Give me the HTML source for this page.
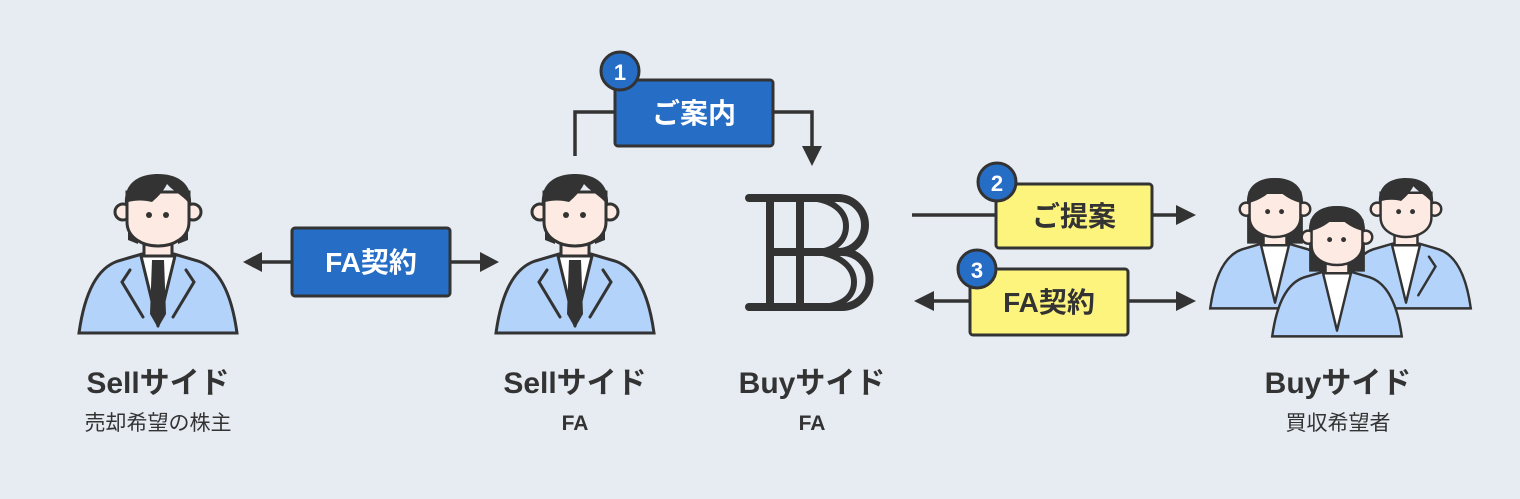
<!DOCTYPE html>
<html><head><meta charset="utf-8"><style>
html,body{margin:0;padding:0;background:#e7ecf3;}
svg{display:block}
text{font-family:"Liberation Sans","Noto Sans CJK JP",sans-serif;}
</style></head><body>
<svg width="1520" height="499" viewBox="0 0 1520 499" xmlns="http://www.w3.org/2000/svg">
<rect width="1520" height="499" fill="#e7ecf3"/>
<defs>
<g id="body">
  <path d="M-79 159 C-72 108 -55 92 -40 87 L-16 80 L16 80 L40 87 C55 92 72 108 79 159 Z" fill="#b3d3fb" stroke="#333" stroke-width="3"/>
  <rect x="-14" y="55" width="28" height="30" fill="#fdebe3" stroke="#333" stroke-width="3"/>
  <polygon points="-17,82 17,82 0,152" fill="#fff" stroke="#333" stroke-width="3" stroke-linejoin="round"/>
</g>
<g id="face">
  <circle cx="-35" cy="38" r="8" fill="#fdebe3" stroke="#333" stroke-width="3"/>
  <circle cx="35" cy="38" r="8" fill="#fdebe3" stroke="#333" stroke-width="3"/>
  <path d="M-31 18 L-31 48 C-31 64 -15 72 0 72 C15 72 31 64 31 48 L31 18 Z" fill="#fdebe3" stroke="#333" stroke-width="3"/>
  <circle cx="-9" cy="41" r="3" fill="#333"/>
  <circle cx="8" cy="41" r="3" fill="#333"/>
</g>
<g id="man">
  <path d="M-30 40 L-30 66 L-20 70 L-20 50 Z M30 40 L30 66 L20 70 L20 50 Z" fill="#333"/>
  <use href="#body"/>
  <polygon points="-6,86 6,86 8,140 0,154 -8,140" fill="#333"/>
  <path d="M-28 96 L-36 108 L-15 143 M28 96 L36 108 L15 143" fill="none" stroke="#333" stroke-width="3" stroke-linecap="round"/>
  <use href="#face"/>
  <path d="M-33 32 C-35 8 -18 0 0 0 C18 0 35 8 33 32 L28 26 C22 20 14 16 9 10 C4 20 -4 26 -6 28 C-14 26 -22 26 -30 28 Z" fill="#333"/>
</g>
<g id="mannotie">
  <use href="#body"/>
  <path d="M28 96 L36 108 L15 143" fill="none" stroke="#333" stroke-width="3" stroke-linecap="round"/>
  <use href="#face"/>
  <path d="M-33 32 C-35 8 -18 0 0 0 C18 0 35 8 33 32 L28 26 C22 20 14 16 9 10 C4 20 -4 26 -6 28 C-14 26 -22 26 -30 28 Z" fill="#333"/>
</g>
<g id="woman">
  <path d="M-34 30 C-35 8 -18 0 0 0 C18 0 35 8 34 30 L34 80 L-34 80 Z" fill="#333"/>
  <use href="#body"/>
  <use href="#face"/>
  <path d="M-34 32 C-35 8 -18 0 0 0 C18 0 35 8 34 32 L30 30 C16 26 6 18 0 10 C-6 18 -16 26 -30 30 Z" fill="#333"/>
</g>
</defs>

<!-- people -->
<use href="#man" transform="translate(158,174)"/>
<use href="#man" transform="translate(575,174)"/>
<use href="#woman" transform="translate(1275,178) scale(0.82)"/>
<use href="#mannotie" transform="translate(1406,178) scale(0.82)"/>
<use href="#woman" transform="translate(1337,206) scale(0.82)"/>

<!-- BB logo -->
<g fill="none" stroke="#333" stroke-width="8" stroke-linecap="round">
  <path d="M749 198 L838 198 A27 27 0 0 1 838 252 L770 252"/>
  <path d="M749 307 L842 307 A27.5 27.5 0 0 0 842 252"/>
  <path d="M770 198 L770 307 M800 198 L800 307"/>
</g>
<g fill="none" stroke="#333" stroke-width="6">
  <path d="M810 198 C834 200 846 212 846 226 C846 240 836 250 818 252"/>
  <path d="M818 252 C842 256 854 268 854 282 C854 298 840 307 818 307"/>
</g>

<!-- connector 1 -->
<path d="M575 156 L575 112 L615 112 M773 112 L812 112 L812 150" fill="none" stroke="#333" stroke-width="3.5"/>
<polygon points="802,146 822,146 812,166" fill="#333"/>
<rect x="615" y="80" width="158" height="66" rx="3" fill="#266dc6" stroke="#333" stroke-width="3"/>
<text x="694" y="123" text-anchor="middle" font-size="28" font-weight="bold" fill="#fff">ご案内</text>
<circle cx="620" cy="71" r="19" fill="#266dc6" stroke="#333" stroke-width="3"/>
<text x="620" y="80" text-anchor="middle" font-size="22" font-weight="bold" fill="#fff">1</text>

<!-- FA契約 left -->
<line x1="258" y1="262" x2="484" y2="262" stroke="#333" stroke-width="3.5"/>
<polygon points="243,262 262,252 262,272" fill="#333"/>
<polygon points="499,262 480,252 480,272" fill="#333"/>
<rect x="292" y="228" width="158" height="68" rx="3" fill="#266dc6" stroke="#333" stroke-width="3"/>
<text x="371" y="272" text-anchor="middle" font-size="28" font-weight="bold" fill="#fff">FA契約</text>

<!-- connector 2 -->
<line x1="912" y1="215" x2="1180" y2="215" stroke="#333" stroke-width="3.5"/>
<polygon points="1196,215 1176,205 1176,225" fill="#333"/>
<rect x="996" y="184" width="156" height="64" rx="3" fill="#fdf47e" stroke="#333" stroke-width="3"/>
<text x="1074" y="226" text-anchor="middle" font-size="28" font-weight="bold" fill="#333">ご提案</text>
<circle cx="997" cy="182" r="19" fill="#266dc6" stroke="#333" stroke-width="3"/>
<text x="997" y="191" text-anchor="middle" font-size="22" font-weight="bold" fill="#fff">2</text>

<!-- connector 3 -->
<line x1="930" y1="301" x2="1180" y2="301" stroke="#333" stroke-width="3.5"/>
<polygon points="914,301 934,291 934,311" fill="#333"/>
<polygon points="1196,301 1176,291 1176,311" fill="#333"/>
<rect x="970" y="269" width="158" height="66" rx="3" fill="#fdf47e" stroke="#333" stroke-width="3"/>
<text x="1049" y="312" text-anchor="middle" font-size="28" font-weight="bold" fill="#333">FA契約</text>
<circle cx="977" cy="269" r="19" fill="#266dc6" stroke="#333" stroke-width="3"/>
<text x="977" y="278" text-anchor="middle" font-size="22" font-weight="bold" fill="#fff">3</text>

<!-- labels -->
<g fill="#333" text-anchor="middle">
<text x="158" y="393" font-size="30" font-weight="bold">Sellサイド</text>
<text x="158" y="430" font-size="21">売却希望の株主</text>
<text x="575" y="393" font-size="30" font-weight="bold">Sellサイド</text>
<text x="575" y="430" font-size="21" font-weight="bold">FA</text>
<text x="812" y="393" font-size="30" font-weight="bold">Buyサイド</text>
<text x="812" y="430" font-size="21" font-weight="bold">FA</text>
<text x="1338" y="393" font-size="30" font-weight="bold">Buyサイド</text>
<text x="1338" y="430" font-size="21">買収希望者</text>
</g>
</svg>
</body></html>
